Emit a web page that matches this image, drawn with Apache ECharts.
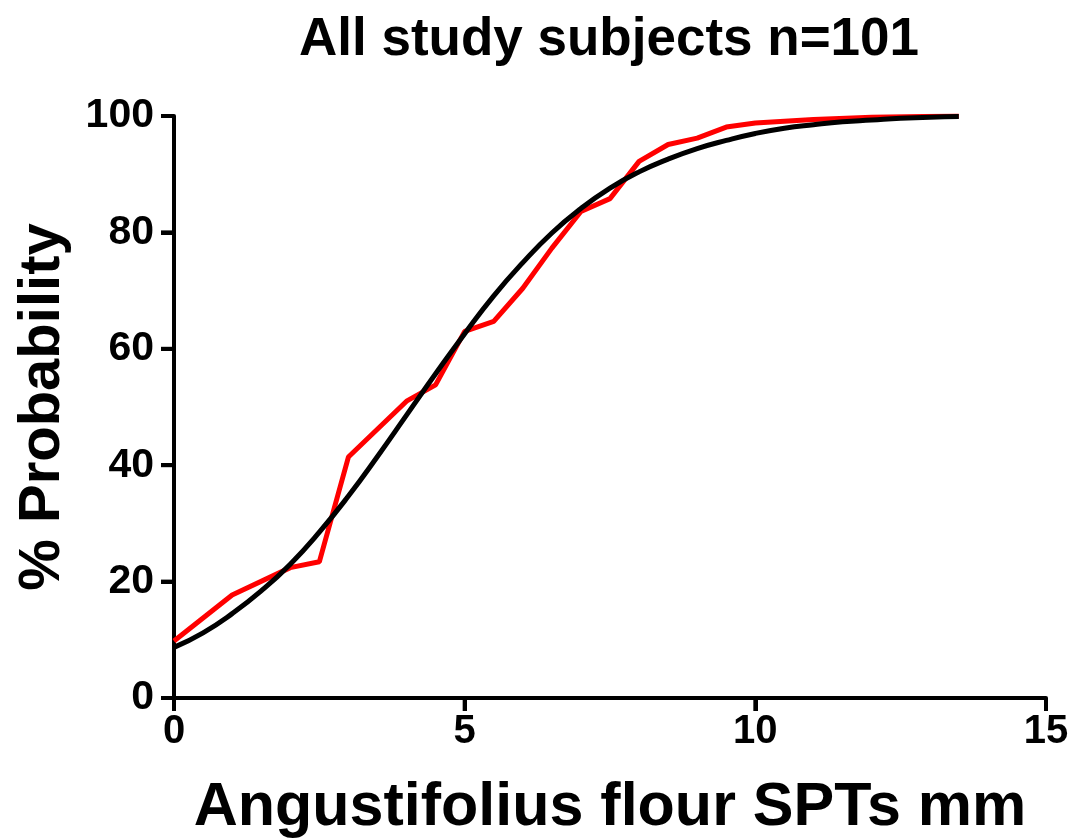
<!DOCTYPE html>
<html>
<head>
<meta charset="utf-8">
<script src="https://cdn.jsdelivr.net/npm/echarts@6/dist/echarts.min.js"></script>
<style>html,body{margin:0;padding:0;background:#fff;}#c{width:1072px;height:840px;}</style>
</head>
<body>
<div id="c"></div>
<script>
// Empirical cumulative probability (red)
const redX = [0, 1, 2, 2.5, 3, 4, 4.5, 5, 5.5, 6, 6.5, 7, 7.5, 8, 8.5, 9, 9.5, 10, 11, 12, 13.5];
const redY = [9.8, 17.7, 22.4, 23.4, 41.4, 51.0, 53.8, 63.0, 64.7, 70.4, 77.3, 83.6, 85.8, 92.2, 95.1, 96.2, 98.1, 98.8, 99.4, 99.8, 100];
// Fitted curve (black)
const fitX = [0, 0.5, 1, 1.5, 2, 2.5, 3, 3.5, 4, 4.5, 5, 5.5, 6, 6.5, 7, 7.5, 8, 8.5, 9, 9.5, 10, 10.5, 11, 11.5, 12, 12.5, 13, 13.5];
const fitY = [8.7, 11.2, 14.5, 18.4, 23.0, 28.5, 34.7, 41.5, 48.6, 55.7, 62.6, 69.1, 74.8, 79.9, 84.1, 87.6, 90.4, 92.6, 94.4, 95.8, 97.0, 97.9, 98.5, 99.0, 99.3, 99.6, 99.8, 99.9];
const xTicks = [0, 5, 10, 15];
const yTicks = [0, 20, 40, 60, 80, 100];

const FONT = '"Liberation Sans", Arial, sans-serif';
const TICK_LEN = 13;
const chart = echarts.init(document.getElementById('c'), null, {renderer: 'canvas'});
chart.setOption({
  backgroundColor: '#fff',
  animation: false,
  title: {
    text: 'All study subjects n=101',
    left: 604, top: 9, textAlign: 'center',
    textStyle: {fontFamily: FONT, fontWeight: 'bold', fontSize: 53, color: '#000'}
  },
  grid: {left: 174, right: 26, top: 116, bottom: 142, outerBoundsMode: 'none'},
  xAxis: {
    type: 'value', min: xTicks[0], max: xTicks[xTicks.length - 1], interval: 5,
    name: 'Angustifolius flour SPTs mm', nameLocation: 'middle', nameGap: 80,
    nameTextStyle: {fontFamily: FONT, fontWeight: 'bold', fontSize: 61, color: '#000'},
    axisLine: {show: true, onZero: false, lineStyle: {color: '#000', width: 4}},
    axisTick: {show: true, length: TICK_LEN, lineStyle: {color: '#000', width: 4}},
    axisLabel: {fontFamily: FONT, fontWeight: 'bold', fontSize: 40, color: '#000', margin: 14},
    splitLine: {show: false}
  },
  yAxis: {
    type: 'value', min: yTicks[0], max: yTicks[yTicks.length - 1], interval: 20,
    name: '% Probability', nameLocation: 'middle', nameGap: 102, nameRotate: 90,
    nameTextStyle: {fontFamily: FONT, fontWeight: 'bold', fontSize: 58, color: '#000'},
    axisLine: {show: true, onZero: false, lineStyle: {color: '#000', width: 4}},
    axisTick: {show: true, length: TICK_LEN, lineStyle: {color: '#000', width: 4}},
    axisLabel: {fontFamily: FONT, fontWeight: 'bold', fontSize: 41, color: '#000', margin: 20},
    splitLine: {show: false}
  },
  series: [
    {
      type: 'line', data: redX.map((x, i) => [x, redY[i]]),
      showSymbol: false, symbol: 'none',
      lineStyle: {color: '#ff0000', width: 5}, z: 2
    },
    {
      type: 'line', data: fitX.map((x, i) => [x, fitY[i]]),
      showSymbol: false, symbol: 'none', smooth: true,
      lineStyle: {color: '#000', width: 5}, z: 3
    }
  ]
});

// Outward tick marks placed through the axes' own scales
const x0 = chart.convertToPixel({xAxisIndex: 0}, xTicks[0]);
const y0 = chart.convertToPixel({yAxisIndex: 0}, yTicks[0]);
const tickEls = [];
yTicks.forEach(v => {
  const py = chart.convertToPixel({yAxisIndex: 0}, v);
  tickEls.push({type: 'line', shape: {x1: x0 - TICK_LEN, y1: py, x2: x0, y2: py},
    style: {stroke: '#000', lineWidth: 4}, z: 10});
});
xTicks.forEach(v => {
  const px = chart.convertToPixel({xAxisIndex: 0}, v);
  tickEls.push({type: 'line', shape: {x1: px, y1: y0, x2: px, y2: y0 + TICK_LEN},
    style: {stroke: '#000', lineWidth: 4}, z: 10});
});
chart.setOption({graphic: tickEls});
</script>
</body>
</html>
